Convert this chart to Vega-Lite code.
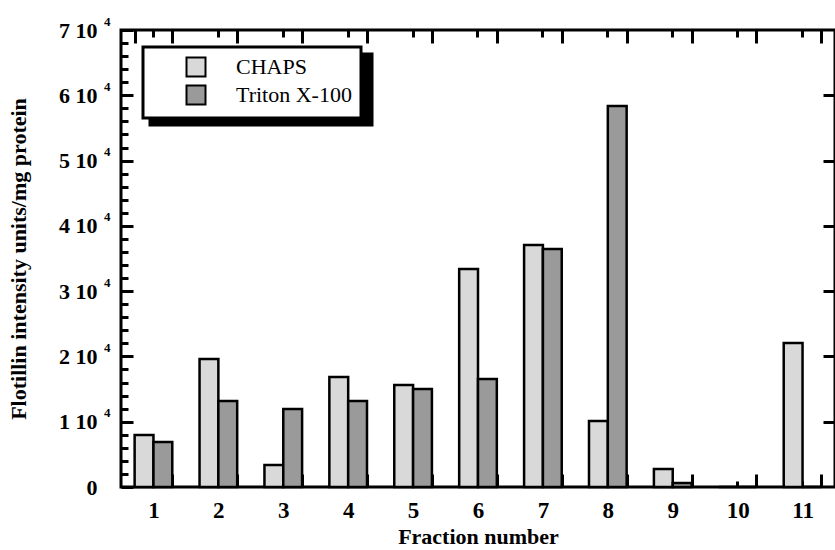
{
  "$schema": "https://vega.github.io/schema/vega-lite/v6.json",
  "width": 714,
  "height": 457,
  "autosize": {"type": "none"},
  "padding": {"left": 121, "top": 30, "right": 0, "bottom": 63},
  "background": "white",
  "config": {
    "view": {"stroke": "black", "strokeWidth": 3},
    "font": "Liberation Serif",
    "axis": {
      "domain": false,
      "grid": false,
      "tickColor": "black",
      "tickWidth": 3,
      "labelFont": "Liberation Serif",
      "labelFontWeight": "bold",
      "labelFontSize": 23,
      "labelColor": "black",
      "titleFont": "Liberation Serif",
      "titleFontWeight": "bold",
      "titleFontSize": 22,
      "titleColor": "black"
    }
  },
  "data": {
    "values": [
      {"fraction": 1, "series": "CHAPS", "value": 7960},
      {"fraction": 1, "series": "Triton X-100", "value": 6900},
      {"fraction": 2, "series": "CHAPS", "value": 19600},
      {"fraction": 2, "series": "Triton X-100", "value": 13170},
      {"fraction": 3, "series": "CHAPS", "value": 3370},
      {"fraction": 3, "series": "Triton X-100", "value": 11950},
      {"fraction": 4, "series": "CHAPS", "value": 16850},
      {"fraction": 4, "series": "Triton X-100", "value": 13170},
      {"fraction": 5, "series": "CHAPS", "value": 15620},
      {"fraction": 5, "series": "Triton X-100", "value": 15010},
      {"fraction": 6, "series": "CHAPS", "value": 33390},
      {"fraction": 6, "series": "Triton X-100", "value": 16540},
      {"fraction": 7, "series": "CHAPS", "value": 37060},
      {"fraction": 7, "series": "Triton X-100", "value": 36450},
      {"fraction": 8, "series": "CHAPS", "value": 10110},
      {"fraction": 8, "series": "Triton X-100", "value": 58350},
      {"fraction": 9, "series": "CHAPS", "value": 2760},
      {"fraction": 9, "series": "Triton X-100", "value": 610},
      {"fraction": 10, "series": "CHAPS", "value": 0},
      {"fraction": 10, "series": "Triton X-100", "value": 0},
      {"fraction": 11, "series": "CHAPS", "value": 22050},
      {"fraction": 11, "series": "Triton X-100", "value": 0}
    ]
  },
  "layer": [
    {
      "mark": {"type": "bar", "opacity": 0},
      "encoding": {
        "x": {
          "field": "fraction", "type": "ordinal",
          "scale": {"paddingInner": 0.42, "paddingOuter": 0.21},
          "axis": {"orient": "top", "title": null, "labels": false, "tickBand": "extent", "tickSize": -13}
        },
        "y": {
          "field": "value", "type": "quantitative",
          "scale": {"domain": [0, 70000], "nice": false},
          "axis": {"orient": "right", "title": null, "labels": false, "values": [10000, 20000, 30000, 40000, 50000, 60000], "tickSize": -12}
        },
        "color": {
          "field": "series", "type": "nominal",
          "scale": {"range": ["black", "black"]},
          "legend": {
            "orient": "none", "legendX": 29, "legendY": 24,
            "title": null,
            "fillColor": "black", "strokeColor": "black",
            "padding": 9,
            "symbolType": "square", "symbolSize": 361, "symbolStrokeWidth": 2,
            "symbolStrokeColor": "black", "symbolOpacity": 1,
            "symbolOffset": 179, "labelOffset": 0, "rowPadding": 0,
            "labelFont": "Liberation Serif", "labelFontSize": 22, "labelColor": "black",
            "labelExpr": "''",
            "encode": {"legend": {"update": {"strokeWidth": {"value": 3}}}}
          }
        }
      }
    },
    {
      "mark": {"type": "bar", "stroke": "black", "strokeWidth": 2.5},
      "encoding": {
        "x": {
          "field": "fraction", "type": "ordinal",
          "axis": {"orient": "bottom", "title": "Fraction number", "labelAngle": 0, "tickBand": "extent", "tickSize": -13, "labelPadding": 25, "titlePadding": 4}
        },
        "xOffset": {"field": "series", "type": "nominal"},
        "y": {
          "field": "value", "type": "quantitative",
          "axis": {
            "orient": "left", "title": "Flotillin intensity units/mg protein",
            "values": [0, 10000, 20000, 30000, 40000, 50000, 60000, 70000],
            "labelExpr": "datum.value == 0 ? '0' : format(datum.value / 10000, 'd') + ' 10'",
            "labelFontSize": 22,
            "tickSize": -12, "labelPadding": 36, "titlePadding": 28
          }
        },
        "fill": {
          "field": "series", "type": "nominal",
          "scale": {"range": ["#d9d9d9", "#9a9a9a"]},
          "legend": {
            "orient": "none", "legendX": 22, "legendY": 17,
            "title": null,
            "fillColor": "white", "strokeColor": "black",
            "padding": 9,
            "symbolType": "square", "symbolSize": 361, "symbolStrokeWidth": 2,
            "symbolStrokeColor": "black", "symbolOpacity": 1,
            "symbolOffset": 33, "labelOffset": 29, "rowPadding": 0,
            "labelFont": "Liberation Serif", "labelFontSize": 22, "labelColor": "black",
            "encode": {"legend": {"update": {"strokeWidth": {"value": 3}}}}
          }
        }
      }
    },
    {
      "mark": {"type": "bar", "opacity": 0},
      "encoding": {
        "x": {
          "field": "fraction", "type": "ordinal",
          "axis": {"orient": "bottom", "title": null, "labels": false, "tickSize": -6}
        },
        "y": {
          "field": "value", "type": "quantitative",
          "axis": {"orient": "left", "title": null, "labels": false, "tickSize": -7,
            "values": [2000, 4000, 6000, 8000, 12000, 14000, 16000, 18000, 22000, 24000, 26000, 28000, 32000, 34000, 36000, 38000, 42000, 44000, 46000, 48000, 52000, 54000, 56000, 58000, 62000, 64000, 66000, 68000]}
        }
      }
    },
    {
      "mark": {"type": "bar", "opacity": 0},
      "encoding": {
        "x": {
          "field": "fraction", "type": "ordinal",
          "axis": {"orient": "top", "title": null, "labels": false, "tickSize": -7}
        },
        "y": {
          "field": "value", "type": "quantitative",
          "axis": {"orient": "left", "title": null, "ticks": false, "tickSize": 0,
            "values": [10000, 20000, 30000, 40000, 50000, 60000, 70000],
            "labelExpr": "'4'", "labelFontSize": 13, "labelPadding": 11, "labelOffset": -9}
        }
      }
    }
  ],
  "resolve": {"axis": {"x": "independent", "y": "independent"}}
}
